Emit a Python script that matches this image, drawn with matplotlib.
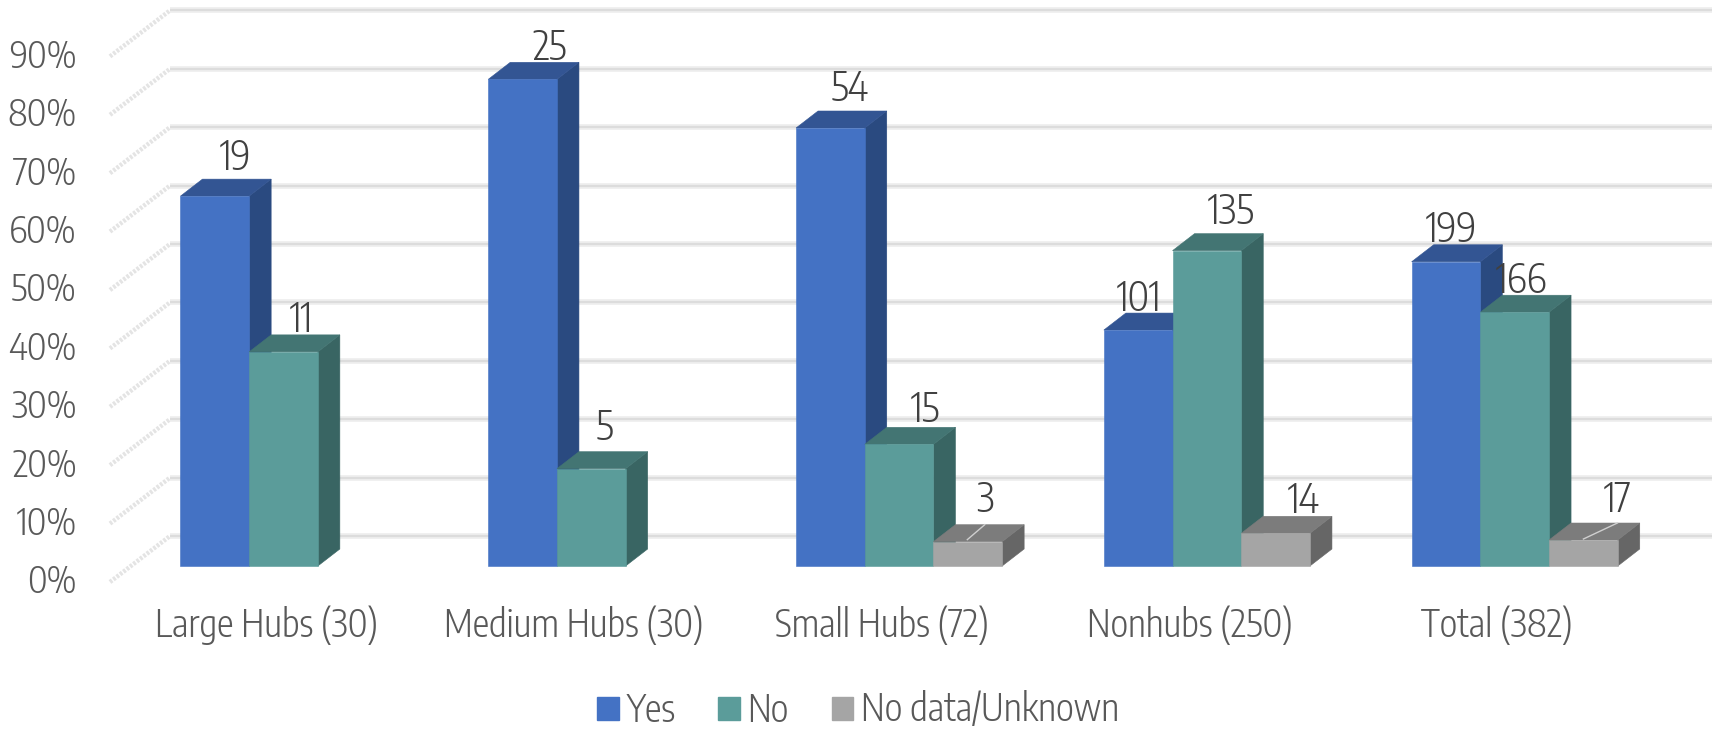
import matplotlib
matplotlib.use("Agg")
import matplotlib.pyplot as plt
from matplotlib.patches import Patch, Polygon
from matplotlib.transforms import ScaledTranslation

# Survey counts per airport class
categories = ["Large Hubs (30)", "Medium Hubs (30)", "Small Hubs (72)", "Nonhubs (250)", "Total (382)"]
group_sizes = [30, 30, 72, 250, 382]
yes_counts = [19, 25, 54, 101, 199]
no_counts = [11, 5, 15, 135, 166]
unknown_counts = [0, 0, 3, 14, 17]
series_names = ["Yes", "No", "No data/Unknown"]
y_ticks = [0, 10, 20, 30, 40, 50, 60, 70, 80, 90]

plt.rcParams["font.family"] = ["Encode Sans Condensed", "Roboto Condensed", "Roboto", "DejaVu Sans"]
plt.rcParams["font.weight"] = 300

W, H = 1717, 731
PX_PER_UNIT = 307.8
PX_PER_PCT = 5.84
AX_LEFT_PX, FLOOR_PX = 110, 582
ORIGIN_PX = 266

fig = plt.figure(figsize=(W / 100, H / 100), dpi=100, facecolor="white")
ax = fig.add_axes([AX_LEFT_PX / W, (H - FLOOR_PX) / H, 1 - AX_LEFT_PX / W, FLOOR_PX / H])
ax.set_xlim((AX_LEFT_PX - ORIGIN_PX) / PX_PER_UNIT, (W - ORIGIN_PX) / PX_PER_UNIT)
ax.set_ylim(0, FLOOR_PX / PX_PER_PCT)
for spine in ax.spines.values():
    spine.set_visible(False)


def dx(px):
    return px / PX_PER_UNIT


def dy(px):
    return px / PX_PER_PCT


# Pseudo-3D wall: diagonal strokes on the side wall, gridlines on the back wall
wall_x0 = ax.get_xlim()[0]
wall_x1 = wall_x0 + dx(60)
wall_end = dx(1712 - ORIGIN_PX)
wall_rise = dy(46)
for v in y_ticks:
    back = v + wall_rise
    ax.plot([wall_x0, wall_x1], [v, back], color="#e4e4e4", lw=3.2,
            ls=(0, (0.6, 0.35)), solid_capstyle="butt", zorder=1, clip_on=False)
    ax.plot([wall_x1, wall_end], [back, back], color="#efefef", lw=4.2, zorder=1,
            solid_capstyle="butt")
    ax.plot([wall_x1, wall_end], [back, back], color="#dcdcdc", lw=1.6, zorder=1.1,
            solid_capstyle="butt")

# Columns: front, top and side faces sheared by a fixed depth
BAR_W = dx(68.7)
BAR_SHIFT_X = dx(17.5)
BAR_LIFT = dy(16)
DEPTH_X, DEPTH_Y = dx(22), dy(17)
FACES = [("#4472C4", "#335593", "#2A4A80"),
         ("#5B9C9A", "#437573", "#396563"),
         ("#A5A5A5", "#7C7C7C", "#666666")]
series_counts = [yes_counts, no_counts, unknown_counts]

# Label offsets from the centre of each column's top edge, in pixels
label_offsets = [
    [(21, -38), (27, -31), (19, -39), (1, -31), (5, -32)],
    [(18, -32), (13, -40), (26, -34), (24, -38), (7, -31)],
    [None, None, (17, -41), (28, -32), (34, -40)],
]

for i in range(len(categories)):
    left = i + BAR_SHIFT_X - 1.5 * BAR_W
    for s, counts in enumerate(series_counts):
        count = counts[i]
        if count == 0:
            continue
        pct = 100 * count / group_sizes[i]
        x0, x1 = left + s * BAR_W, left + (s + 1) * BAR_W
        y0, y1 = BAR_LIFT, BAR_LIFT + pct
        front, top, side = FACES[s]
        z = 3 + i + s * 0.1
        ax.add_patch(Polygon([(x1, y0), (x1 + DEPTH_X, y0 + DEPTH_Y), (x1 + DEPTH_X, y1 + DEPTH_Y), (x1, y1)],
                             closed=True, fc=side, ec=side, lw=0.4, zorder=z))
        ax.add_patch(Polygon([(x0, y1), (x1, y1), (x1 + DEPTH_X, y1 + DEPTH_Y), (x0 + DEPTH_X, y1 + DEPTH_Y)],
                             closed=True, fc=top, ec=top, lw=0.4, zorder=z))
        ax.add_patch(Polygon([(x0, y0), (x1, y0), (x1, y1), (x0, y1)],
                             closed=True, fc=front, ec=front, lw=0.4, zorder=z))
        ox, oy = label_offsets[s][i]
        cx = (x0 + x1) / 2
        ax.text(cx + dx(ox), y1 - dy(oy), str(count), ha="center", va="center",
                fontsize=29, color="#404040", zorder=20)

# Leader strokes on the short grey columns
for i, (a, b) in {2: ((-0.5, 2), (17, 17)), 4: ((0, 1), (34, 17))}.items():
    left = i + BAR_SHIFT_X + 0.5 * BAR_W
    pct = 100 * unknown_counts[i] / group_sizes[i]
    cx = left + BAR_W / 2
    ax.plot([cx + dx(a[0]), cx + dx(b[0])], [BAR_LIFT + pct + dy(a[1]), BAR_LIFT + pct + dy(b[1])],
            color="#cfcfcf", lw=1, zorder=15)

ax.set_yticks(y_ticks, [f"{v}%" for v in y_ticks])
ax.set_xticks(range(len(categories)), categories)
ax.tick_params(axis="y", length=0, pad=24, labelsize=26.5, labelcolor="#595959")
ax.tick_params(axis="x", length=0, pad=17, labelsize=26.8, labelcolor="#595959")

# Percentages sit slightly above the front end of each wall stroke
lift = ScaledTranslation(0, 3.3 / 100, fig.dpi_scale_trans)
for label in ax.get_yticklabels():
    label.set_transform(label.get_transform() + lift)

handles = [Patch(fc=f[0], ec=f[0], label=n) for f, n in zip(FACES, series_names)]
fig.legend(handles=handles, loc="center", bbox_to_anchor=(858 / W, 1 - 710 / H), ncol=3, frameon=False,
           fontsize=27, labelcolor="#595959", handlelength=0.57, handleheight=0.57,
           handletextpad=0.2, columnspacing=1.15, borderpad=0, borderaxespad=0)

fig.savefig("out.png", dpi=100, facecolor="white")
